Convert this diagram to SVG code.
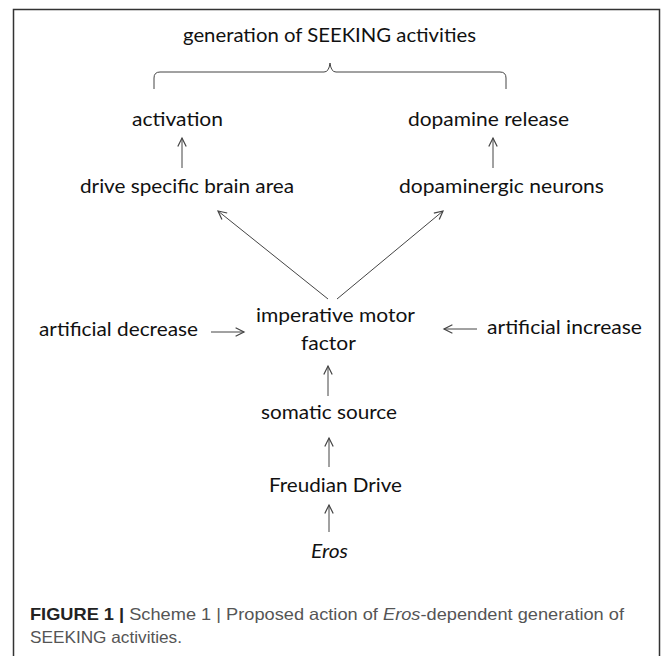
<svg xmlns="http://www.w3.org/2000/svg" width="672" height="656" viewBox="0 0 672 656">
  <defs>
    <marker id="ah" markerUnits="userSpaceOnUse" markerWidth="12" markerHeight="12" viewBox="-8 -5 10 10" refX="0" refY="0" orient="auto">
      <path d="M-7,-3.5 L0,0 L-7,3.5" fill="none" stroke="#444" stroke-width="1"/>
    </marker>
  </defs>
  <style>
    .t { font-family: Lato, "Open Sans", sans-serif; font-size: 20px; fill: #111; }
    .c { stroke: #444; stroke-width: 1; fill: none; marker-end: url(#ah); }
    .cap { font-family: "Liberation Sans", Arial, sans-serif; font-size: 16.5px; fill: #555; }
  </style>
  <rect width="672" height="656" fill="#fff"/>
  <path d="M13.5,660 L13.5,9.5 L659.5,9.5 L659.5,660" fill="none" stroke="#333" stroke-width="1.5"/>

  <g id="title"><text class="t" x="183" y="42" textLength="293" lengthAdjust="spacingAndGlyphs">generation of SEEKING activities</text></g>
  <g id="brace"><path d="M154,89 L154,78 Q154,72 160,72 L324,72 Q329,72 330,63 Q331,72 336,72 L500,72 Q506,72 506,78 L506,89" fill="none" stroke="#444" stroke-width="1"/></g>

  <g id="activation"><text class="t" x="132" y="126" textLength="91" lengthAdjust="spacingAndGlyphs">activation</text></g>
  <g id="dopamine-release"><text class="t" x="408" y="126" textLength="161" lengthAdjust="spacingAndGlyphs">dopamine release</text></g>
  <g id="drive-area"><text class="t" x="80" y="193" textLength="214" lengthAdjust="spacingAndGlyphs">drive specific brain area</text></g>
  <g id="dopaminergic"><text class="t" x="399" y="193" textLength="205" lengthAdjust="spacingAndGlyphs">dopaminergic neurons</text></g>
  <g id="imperative">
    <text class="t" x="256" y="322" textLength="159" lengthAdjust="spacingAndGlyphs">imperative motor</text>
    <text class="t" x="301" y="350" textLength="55" lengthAdjust="spacingAndGlyphs">factor</text>
  </g>
  <g id="art-decrease"><text class="t" x="39" y="336" textLength="159" lengthAdjust="spacingAndGlyphs">artificial decrease</text></g>
  <g id="art-increase"><text class="t" x="487" y="334" textLength="155" lengthAdjust="spacingAndGlyphs">artificial increase</text></g>
  <g id="somatic"><text class="t" x="261" y="419" textLength="136" lengthAdjust="spacingAndGlyphs">somatic source</text></g>
  <g id="freudian"><text class="t" x="269" y="492" textLength="133" lengthAdjust="spacingAndGlyphs">Freudian Drive</text></g>
  <g id="eros"><text class="t" x="311" y="558" font-style="italic" textLength="37" lengthAdjust="spacingAndGlyphs">Eros</text></g>

  <g id="connectors">
    <line class="c" x1="182" y1="168" x2="182" y2="138"/>
    <line class="c" x1="493" y1="168" x2="493" y2="138"/>
    <line class="c" x1="328" y1="299" x2="218" y2="211"/>
    <line class="c" x1="337" y1="299" x2="443" y2="211"/>
    <line class="c" x1="211" y1="332" x2="244" y2="332"/>
    <line class="c" x1="477" y1="329" x2="444" y2="329"/>
    <line class="c" x1="328" y1="396" x2="328" y2="366"/>
    <line class="c" x1="329" y1="467" x2="329" y2="438"/>
    <line class="c" x1="329" y1="532" x2="329" y2="505"/>
  </g>

  <g id="caption">
    <text class="cap" x="30" y="620" textLength="594" lengthAdjust="spacingAndGlyphs"><tspan font-weight="bold" fill="#222">FIGURE 1 |</tspan> Scheme 1 | Proposed action of <tspan font-style="italic">Eros</tspan>-dependent generation of</text>
    <text class="cap" x="30" y="643" textLength="152" lengthAdjust="spacingAndGlyphs">SEEKING activities.</text>
  </g>
</svg>
